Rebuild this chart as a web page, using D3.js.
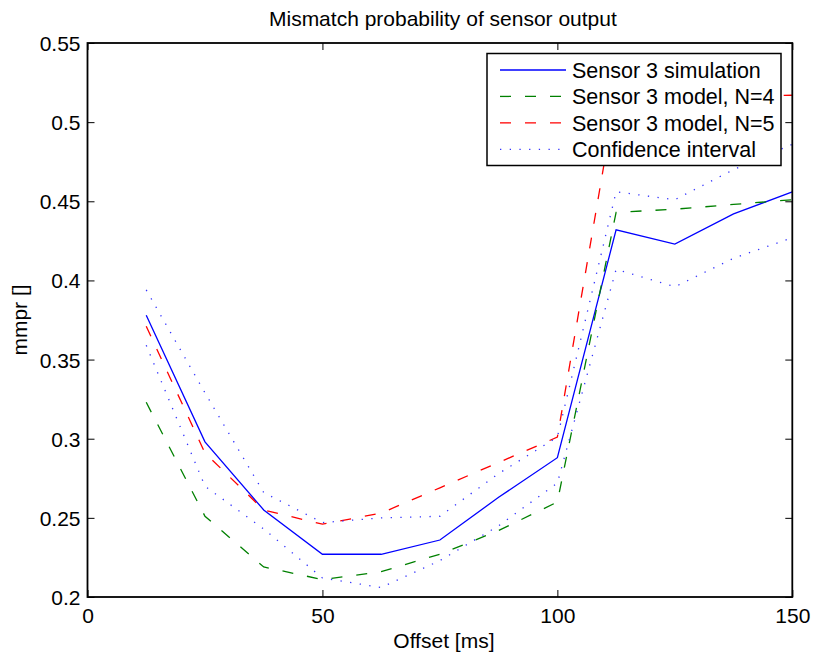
<!DOCTYPE html>
<html>
<head>
<meta charset="utf-8">
<script src="https://cdn.jsdelivr.net/npm/d3@7"></script>
<style>
  html, body { margin: 0; padding: 0; background: #fff; }
  text { font-family: "Liberation Sans", Arial, Helvetica, sans-serif; fill: #000; }
</style>
</head>
<body>
<svg id="chart" width="814" height="656"></svg>
<script>
// ---- data ----
const offsets = [12.5, 25, 37.5, 50, 62.5, 75, 87.5, 100, 112.5, 125, 137.5, 150];
const simulation = [0.378, 0.298, 0.255, 0.227, 0.227, 0.236, 0.263, 0.288, 0.432, 0.423, 0.442, 0.456];
const modelN4    = [0.323, 0.251, 0.219, 0.211, 0.216, 0.227, 0.242, 0.260, 0.443, 0.445, 0.448, 0.451];
const modelN5    = [0.371, 0.291, 0.255, 0.246, 0.253, 0.269, 0.285, 0.301, 0.518, 0.514, 0.516, 0.517];
const ciUpper    = [0.394, 0.329, 0.266, 0.247, 0.250, 0.251, 0.278, 0.301, 0.456, 0.451, 0.470, 0.486];
const ciLower    = [0.359, 0.270, 0.243, 0.212, 0.206, 0.223, 0.245, 0.272, 0.407, 0.396, 0.414, 0.427];
const xTicks = [0, 50, 100, 150];
const yTicks = [0.2, 0.25, 0.3, 0.35, 0.4, 0.45, 0.5, 0.55];
const legendLabels = ["Sensor 3 simulation", "Sensor 3 model, N=4", "Sensor 3 model, N=5", "Confidence interval"];
const titleText = "Mismatch probability of sensor output";
const xLabel = "Offset [ms]";
const yLabel = "mmpr []";

// ---- layout ----
const L = 87.5, R = 792.3, T = 43, B = 597;
const svg = d3.select("#chart");
const x = d3.scaleLinear().domain([0, 150]).range([L, R]);
const y = d3.scaleLinear().domain([0.2, 0.55]).range([B, T]);

const styles = [
  { color: "#0000ff", dash: null, width: 1.3 },
  { color: "#008000", dash: "11,14", width: 1.3 },
  { color: "#ff0000", dash: "11,14", width: 1.3 },
  { color: "#3333ff", dash: "1.3,8.4", width: 1.3 }
];

const line = d3.line().x((d, i) => x(offsets[i])).y(d => y(d));

const plot = svg.append("g");
function drawSeries(vals, st) {
  plot.append("path").datum(vals)
    .attr("d", line)
    .attr("fill", "none")
    .attr("stroke", st.color)
    .attr("stroke-width", st.width)
    .attr("stroke-dasharray", st.dash)
    .attr("stroke-linejoin", "miter");
}
drawSeries(simulation, styles[0]);
drawSeries(modelN4, styles[1]);
drawSeries(modelN5, styles[2]);
drawSeries(ciUpper, styles[3]);
drawSeries(ciLower, styles[3]);

// ---- axes (ticks inward on all four sides) ----
const tickLen = 7;
const axB = d3.axisBottom(x).tickValues(xTicks).tickSize(-tickLen).tickPadding(13).tickFormat(d3.format("d"));
const axT = d3.axisTop(x).tickValues(xTicks).tickSize(-tickLen).tickFormat("");
const axL = d3.axisLeft(y).tickValues(yTicks).tickSize(-tickLen).tickPadding(7).tickFormat(d => String(+d.toFixed(2)));
const axR = d3.axisRight(y).tickValues(yTicks).tickSize(-tickLen).tickFormat("");

function styleAxis(g) {
  g.select(".domain").remove();
  g.selectAll(".tick line").attr("stroke", "#000").attr("stroke-width", 1);
  g.selectAll(".tick text").attr("font-size", 21).attr("font-family", "'Liberation Sans', Arial, sans-serif").attr("fill", "#000");
}
svg.append("g").attr("transform", `translate(0,${B})`).call(axB).call(styleAxis)
  .selectAll(".tick text").attr("dy", "0.62em");
svg.append("g").attr("transform", `translate(0,${T})`).call(axT).call(styleAxis);
svg.append("g").attr("transform", `translate(${L},0)`).call(axL).call(styleAxis)
  .selectAll(".tick text").attr("dy", "0.36em");
svg.append("g").attr("transform", `translate(${R},0)`).call(axR).call(styleAxis);

// frame
svg.append("rect").attr("x", L).attr("y", T).attr("width", R - L).attr("height", B - T)
  .attr("fill", "none").attr("stroke", "#000").attr("stroke-width", 1.8);

// ---- legend ----
const lg = svg.append("g");
const lgX = 487, lgY = 53.5, lgW = 294, lgH = 112;
lg.append("rect").attr("x", lgX).attr("y", lgY).attr("width", lgW).attr("height", lgH)
  .attr("fill", "#fff").attr("stroke", "#000").attr("stroke-width", 1.5);
const rowY = d3.scaleLinear().domain([0, 3]).range([70, 149.3]);
legendLabels.forEach((lab, i) => {
  const st = styles[i];
  lg.append("line").attr("x1", 500).attr("x2", 566).attr("y1", rowY(i)).attr("y2", rowY(i))
    .attr("stroke", st.color).attr("stroke-width", st.width).attr("stroke-dasharray", st.dash);
  lg.append("text").attr("x", 572).attr("y", rowY(i)).attr("dy", "0.36em")
    .attr("font-size", 21.5).text(lab);
});

// ---- titles ----
svg.append("text").attr("x", (L + R) / 2 + 3).attr("y", 26).attr("text-anchor", "middle")
  .attr("font-size", 21).text(titleText);
svg.append("text").attr("x", (L + R) / 2 + 4).attr("y", 648).attr("text-anchor", "middle")
  .attr("font-size", 21).text(xLabel);
svg.append("text").attr("transform", `translate(27,${(T + B) / 2}) rotate(-90)`)
  .attr("text-anchor", "middle").attr("font-size", 21).text(yLabel);
</script>
</body>
</html>
